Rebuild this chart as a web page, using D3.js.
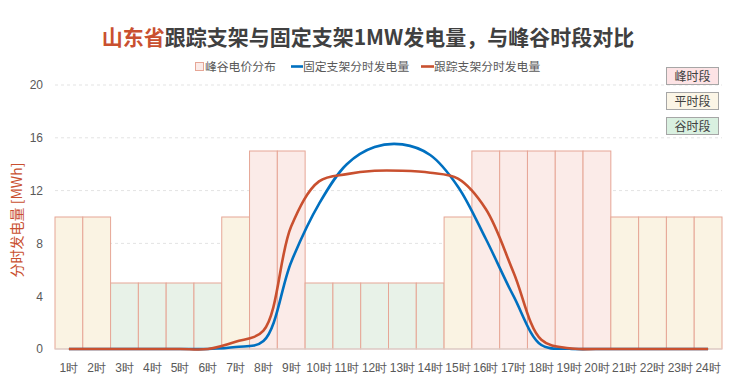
<!DOCTYPE html>
<html>
<head>
<meta charset="utf-8">
<script src="https://cdn.jsdelivr.net/npm/d3@7"></script>
<style>
  body { margin: 0; background: #fff; }
  svg { font-family: "Noto Sans CJK SC", "Noto Sans", sans-serif; }
</style>
</head>
<body>
<svg></svg>
<script>
const hours = ["1时","2时","3时","4时","5时","6时","7时","8时","9时","10时","11时","12时",
               "13时","14时","15时","16时","17时","18时","19时","20时","21时","22时","23时","24时"];
// 峰谷时段: 峰 / 平 / 谷
const periods = ["平","平","谷","谷","谷","谷","平","峰","峰","谷","谷","谷",
                 "谷","谷","平","峰","峰","峰","峰","峰","平","平","平","平"];
const priceBars = [10,10,5,5,5,5,10,15,15,5,5,5,5,5,10,15,15,15,15,15,10,10,10,10];
const fixedGen = [0,0,0,0,0,0,0.15,0.6,6.6,11.0,14.0,15.3,15.5,14.7,12.3,8.35,4.0,0.3,0.02,0,0,0,0,0];
const trackGen = [0,0,0,0,0,0,0.55,1.4,9.3,12.7,13.25,13.5,13.5,13.35,12.9,10.6,5.8,0.7,0.05,0,0,0,0,0];
const yTicks = [0,4,8,12,16,20];
const periodNames = ["峰时段","平时段","谷时段"];

const width = 736, height = 389;
const margin = { top: 85, right: 14, bottom: 40, left: 55 };

const fillOf = { "峰": "#fbebe8", "平": "#faf3e3", "谷": "#e8f2e8" };
const boxFill = { "峰时段": "#fde3e5", "平时段": "#fbf5e6", "谷时段": "#d9f0e0" };

const svg = d3.select("svg").attr("width", width).attr("height", height);

const x = d3.scaleBand()
    .domain(hours)
    .range([margin.left, width - margin.right])
    .padding(0);

const y = d3.scaleLinear()
    .domain([0, 20])
    .range([height - margin.bottom, margin.top]);

// 网格线
svg.append("g")
    .selectAll("line")
    .data(yTicks.filter(d => d > 0))
    .enter()
    .append("line")
    .attr("x1", margin.left)
    .attr("x2", width - margin.right)
    .attr("y1", d => y(d))
    .attr("y2", d => y(d))
    .attr("stroke", "#e3e3e3")
    .attr("stroke-dasharray", "3,3");

// 峰谷电价柱
svg.append("g")
    .selectAll("rect")
    .data(priceBars)
    .enter()
    .append("rect")
    .attr("x", (d, i) => x(hours[i]))
    .attr("y", d => y(d))
    .attr("width", x.bandwidth())
    .attr("height", d => y(0) - y(d))
    .attr("fill", (d, i) => fillOf[periods[i]])
    .attr("stroke", "#e6a696")
    .attr("stroke-width", 1);

// 0 轴线
svg.append("line")
    .attr("x1", margin.left)
    .attr("x2", width - margin.right)
    .attr("y1", y(0))
    .attr("y2", y(0))
    .attr("stroke", "#d9d9d9");

// Y 轴
const yAxis = svg.append("g")
    .attr("transform", `translate(${margin.left},0)`)
    .call(d3.axisLeft(y).tickValues(yTicks).tickSize(0).tickPadding(12));
yAxis.select(".domain").remove();
yAxis.selectAll("text").style("font-size", "12px").style("fill", "#595959");

// X 轴
const xAxis = svg.append("g")
    .attr("transform", `translate(0,${y(0)})`)
    .call(d3.axisBottom(x).tickSize(0).tickPadding(14));
xAxis.select(".domain").remove();
xAxis.selectAll("text").style("font-size", "12px").style("fill", "#595959");

// 发电量曲线
const line = d3.line()
    .x((d, i) => x(hours[i]) + x.bandwidth() / 2)
    .y(d => y(d))
    .curve(d3.curveCatmullRom.alpha(0.5));

svg.append("path")
    .datum(fixedGen)
    .attr("fill", "none")
    .attr("stroke", "#0070c0")
    .attr("stroke-width", 2.6)
    .attr("d", line);

svg.append("path")
    .datum(trackGen)
    .attr("fill", "none")
    .attr("stroke", "#c9502f")
    .attr("stroke-width", 2.6)
    .attr("d", line);

// 标题
const title = svg.append("text")
    .attr("x", width / 2)
    .attr("y", 45)
    .style("text-anchor", "middle")
    .style("font-size", "21px")
    .style("font-weight", "bold")
    .style("fill", "#404040");
title.append("tspan").style("fill", "#c9502f").text("山东省");
title.append("tspan").text("跟踪支架与固定支架1MW发电量，与峰谷时段对比");

// Y 轴标题
svg.append("text")
    .attr("transform", `translate(22,${(y(0) + y(20)) / 2 + 3}) rotate(-90)`)
    .style("text-anchor", "middle")
    .style("font-size", "14px")
    .style("fill", "#c9502f")
    .text("分时发电量 [MWh]");

// 图例
const legend = svg.append("g").attr("class", "legend");
legend.append("rect")
    .attr("x", 195.5).attr("y", 62.5).attr("width", 8).attr("height", 8)
    .attr("fill", "#fbebe8").attr("stroke", "#e6a696");
legend.append("text").attr("x", 205).attr("y", 71).text("峰谷电价分布");
legend.append("line")
    .attr("x1", 291).attr("x2", 303).attr("y1", 66.5).attr("y2", 66.5)
    .attr("stroke", "#0070c0").attr("stroke-width", 2.6);
legend.append("text").attr("x", 303).attr("y", 71).text("固定支架分时发电量");
legend.append("line")
    .attr("x1", 421).attr("x2", 434).attr("y1", 66.5).attr("y2", 66.5)
    .attr("stroke", "#c9502f").attr("stroke-width", 2.6);
legend.append("text").attr("x", 434).attr("y", 71).text("跟踪支架分时发电量");
legend.selectAll("text").style("font-size", "11.8px").style("fill", "#595959");

// 峰平谷说明框
const boxes = svg.append("g")
    .selectAll("g")
    .data(periodNames)
    .enter()
    .append("g")
    .attr("transform", (d, i) => `translate(666.5,${67.5 + i * 25})`);
boxes.append("rect")
    .attr("width", 52).attr("height", 17)
    .attr("fill", d => boxFill[d])
    .attr("stroke", "#a6a6a6");
boxes.append("text")
    .attr("x", 26).attr("y", 13)
    .style("text-anchor", "middle")
    .style("font-size", "12px")
    .style("fill", "#404040")
    .text(d => d);
</script>
</body>
</html>
